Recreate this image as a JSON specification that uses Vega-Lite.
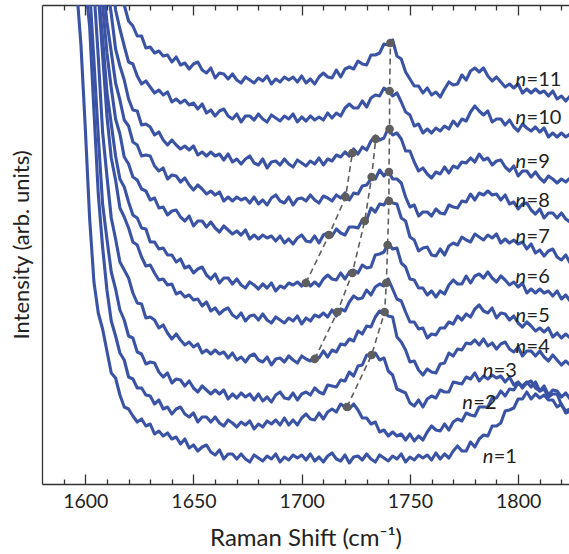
{
"$schema": "https://vega.github.io/schema/vega-lite/v6.json",
"width": 527, "height": 479,
"autosize": "none",
"padding": {"left": 42, "top": 5, "right": 0, "bottom": 70},
"background": "white",
"config": {
  "view": {"stroke": null},
  "font": "Lato",
  "axis": {"grid": false, "domainColor": "#333", "tickColor": "#333", "domainWidth": 1.3, "tickWidth": 1.3, "labelFont": "Lato", "titleFont": "Lato", "labelColor": "#222", "titleColor": "#222", "titleFontWeight": "normal"}
},
"datasets": {
"spec": [
{"x":1594,"n1":560,"n2":560,"n3":560,"n4":560,"n5":560,"n6":560,"n7":560,"n8":560,"n9":560,"n10":560,"n11":560},
{"x":1596,"n1":496,"n2":560,"n3":560,"n4":560,"n5":560,"n6":560,"n7":560,"n8":560,"n9":560,"n10":560,"n11":560},
{"x":1598,"n1":439,"n2":556,"n3":560,"n4":560,"n5":560,"n6":560,"n7":560,"n8":560,"n9":560,"n10":560,"n11":560},
{"x":1600,"n1":356,"n2":500,"n3":541,"n4":560,"n5":560,"n6":560,"n7":560,"n8":560,"n9":560,"n10":560,"n11":560},
{"x":1602,"n1":266,"n2":458,"n3":496,"n4":543,"n5":560,"n6":560,"n7":560,"n8":560,"n9":560,"n10":560,"n11":560},
{"x":1604,"n1":202,"n2":373,"n3":423,"n4":494,"n5":541,"n6":560,"n7":560,"n8":560,"n9":560,"n10":560,"n11":560},
{"x":1606,"n1":171,"n2":290,"n3":348,"n4":427,"n5":491,"n6":495,"n7":533,"n8":536,"n9":560,"n10":560,"n11":560},
{"x":1608,"n1":155,"n2":237,"n3":280,"n4":352,"n5":429,"n6":446,"n7":479,"n8":505,"n9":544,"n10":560,"n11":560},
{"x":1610,"n1":133,"n2":194,"n3":245,"n4":308,"n5":368,"n6":392,"n7":431,"n8":462,"n9":501,"n10":542,"n11":560},
{"x":1612,"n1":111,"n2":163,"n3":212,"n4":266,"n5":326,"n6":360,"n7":396,"n8":432,"n9":470,"n10":517,"n11":560},
{"x":1614,"n1":106,"n2":148,"n3":195,"n4":245,"n5":304,"n6":328,"n7":365,"n8":401,"n9":435,"n10":474,"n11":536},
{"x":1616,"n1":89,"n2":131,"n3":174,"n4":222,"n5":276,"n6":305,"n7":350,"n8":384,"n9":418,"n10":455,"n11":512},
{"x":1618,"n1":77,"n2":124,"n3":164,"n4":214,"n5":267,"n6":297,"n7":327,"n8":364,"n9":404,"n10":438,"n11":479},
{"x":1620,"n1":75,"n2":107,"n3":148,"n4":206,"n5":256,"n6":282,"n7":320,"n8":358,"n9":385,"n10":422,"n11":463},
{"x":1622,"n1":68,"n2":105,"n3":146,"n4":191,"n5":242,"n6":269,"n7":307,"n8":342,"n9":374,"n10":420,"n11":458},
{"x":1624,"n1":62,"n2":96,"n3":132,"n4":181,"n5":239,"n6":266,"n7":304,"n8":339,"n9":373,"n10":408,"n11":448},
{"x":1626,"n1":65,"n2":96,"n3":130,"n4":180,"n5":227,"n6":256,"n7":295,"n8":328,"n9":359,"n10":400,"n11":448},
{"x":1628,"n1":58,"n2":89,"n3":120,"n4":166,"n5":218,"n6":255,"n7":293,"n8":329,"n9":360,"n10":403,"n11":436},
{"x":1630,"n1":60,"n2":88,"n3":122,"n4":167,"n5":219,"n6":242,"n7":284,"n8":328,"n9":357,"n10":397,"n11":437},
{"x":1632,"n1":50,"n2":80,"n3":121,"n4":164,"n5":211,"n6":242,"n7":286,"n8":318,"n9":349,"n10":391,"n11":431},
{"x":1634,"n1":53,"n2":84,"n3":112,"n4":156,"n5":204,"n6":235,"n7":276,"n8":313,"n9":352,"n10":394,"n11":433},
{"x":1636,"n1":48,"n2":75,"n3":107,"n4":159,"n5":205,"n6":236,"n7":277,"n8":316,"n9":344,"n10":389,"n11":428},
{"x":1638,"n1":51,"n2":77,"n3":111,"n4":151,"n5":199,"n6":229,"n7":269,"n8":305,"n9":339,"n10":392,"n11":429},
{"x":1640,"n1":45,"n2":70,"n3":101,"n4":145,"n5":200,"n6":229,"n7":273,"n8":309,"n9":344,"n10":382,"n11":422},
{"x":1642,"n1":47,"n2":75,"n3":105,"n4":150,"n5":190,"n6":222,"n7":274,"n8":308,"n9":339,"n10":385,"n11":427},
{"x":1644,"n1":40,"n2":77,"n3":104,"n4":144,"n5":192,"n6":225,"n7":267,"n8":302,"n9":335,"n10":381,"n11":419},
{"x":1646,"n1":45,"n2":70,"n3":98,"n4":139,"n5":187,"n6":216,"n7":263,"n8":306,"n9":338,"n10":384,"n11":421},
{"x":1648,"n1":36,"n2":67,"n3":103,"n4":142,"n5":189,"n6":218,"n7":268,"n8":299,"n9":334,"n10":379,"n11":415},
{"x":1650,"n1":39,"n2":71,"n3":96,"n4":137,"n5":184,"n6":211,"n7":258,"n8":294,"n9":338,"n10":381,"n11":420},
{"x":1652,"n1":33,"n2":62,"n3":92,"n4":140,"n5":185,"n6":215,"n7":263,"n8":299,"n9":329,"n10":375,"n11":422},
{"x":1654,"n1":37,"n2":67,"n3":98,"n4":131,"n5":178,"n6":217,"n7":263,"n8":295,"n9":332,"n10":380,"n11":414},
{"x":1656,"n1":39,"n2":67,"n3":94,"n4":134,"n5":182,"n6":209,"n7":257,"n8":290,"n9":328,"n10":371,"n11":411},
{"x":1658,"n1":32,"n2":62,"n3":90,"n4":130,"n5":173,"n6":205,"n7":262,"n8":293,"n9":332,"n10":374,"n11":416},
{"x":1660,"n1":29,"n2":67,"n3":94,"n4":134,"n5":176,"n6":210,"n7":256,"n8":289,"n9":328,"n10":368,"n11":406},
{"x":1662,"n1":34,"n2":61,"n3":90,"n4":130,"n5":170,"n6":201,"n7":252,"n8":292,"n9":330,"n10":373,"n11":411},
{"x":1664,"n1":25,"n2":58,"n3":94,"n4":132,"n5":174,"n6":206,"n7":258,"n8":283,"n9":324,"n10":375,"n11":410},
{"x":1666,"n1":30,"n2":64,"n3":85,"n4":126,"n5":176,"n6":206,"n7":254,"n8":287,"n9":330,"n10":368,"n11":405},
{"x":1668,"n1":30,"n2":61,"n3":90,"n4":131,"n5":169,"n6":200,"n7":250,"n8":283,"n9":322,"n10":365,"n11":410},
{"x":1670,"n1":25,"n2":57,"n3":86,"n4":124,"n5":166,"n6":205,"n7":253,"n8":287,"n9":325,"n10":370,"n11":404},
{"x":1672,"n1":30,"n2":62,"n3":91,"n4":127,"n5":171,"n6":199,"n7":249,"n8":284,"n9":320,"n10":362,"n11":401},
{"x":1674,"n1":25,"n2":59,"n3":87,"n4":122,"n5":163,"n6":196,"n7":254,"n8":286,"n9":325,"n10":368,"n11":407},
{"x":1676,"n1":22,"n2":63,"n3":90,"n4":128,"n5":168,"n6":202,"n7":245,"n8":281,"n9":328,"n10":368,"n11":404},
{"x":1678,"n1":29,"n2":55,"n3":84,"n4":130,"n5":169,"n6":199,"n7":249,"n8":287,"n9":321,"n10":364,"n11":401},
{"x":1680,"n1":26,"n2":60,"n3":90,"n4":124,"n5":164,"n6":195,"n7":245,"n8":280,"n9":319,"n10":370,"n11":406},
{"x":1682,"n1":23,"n2":57,"n3":83,"n4":122,"n5":170,"n6":200,"n7":249,"n8":284,"n9":325,"n10":365,"n11":403},
{"x":1684,"n1":28,"n2":63,"n3":87,"n4":127,"n5":164,"n6":196,"n7":246,"n8":279,"n9":316,"n10":362,"n11":408},
{"x":1686,"n1":25,"n2":60,"n3":82,"n4":119,"n5":161,"n6":201,"n7":248,"n8":286,"n9":322,"n10":369,"n11":400},
{"x":1688,"n1":30,"n2":64,"n3":89,"n4":125,"n5":167,"n6":193,"n7":243,"n8":289,"n9":323,"n10":366,"n11":405},
{"x":1690,"n1":22,"n2":59,"n3":92,"n4":126,"n5":164,"n6":198,"n7":248,"n8":283,"n9":319,"n10":363,"n11":402},
{"x":1692,"n1":27,"n2":66,"n3":86,"n4":122,"n5":161,"n6":196,"n7":241,"n8":281,"n9":325,"n10":368,"n11":407},
{"x":1694,"n1":24,"n2":59,"n3":85,"n4":128,"n5":166,"n6":201,"n7":245,"n8":287,"n9":320,"n10":365,"n11":404},
{"x":1696,"n1":29,"n2":64,"n3":91,"n4":124,"n5":163,"n6":199,"n7":240,"n8":279,"n9":317,"n10":370,"n11":407},
{"x":1698,"n1":26,"n2":59,"n3":84,"n4":121,"n5":168,"n6":202,"n7":246,"n8":285,"n9":324,"n10":362,"n11":402},
{"x":1700,"n1":29,"n2":66,"n3":90,"n4":128,"n5":160,"n6":198,"n7":249,"n8":286,"n9":321,"n10":367,"n11":408},
{"x":1702,"n1":24,"n2":70,"n3":92,"n4":125,"n5":166,"n6":204,"n7":243,"n8":283,"n9":318,"n10":363,"n11":401},
{"x":1704,"n1":30,"n2":65,"n3":89,"n4":123,"n5":163,"n6":198,"n7":242,"n8":289,"n9":323,"n10":368,"n11":405},
{"x":1706,"n1":23,"n2":64,"n3":96,"n4":128,"n5":169,"n6":202,"n7":248,"n8":284,"n9":320,"n10":364,"n11":400},
{"x":1708,"n1":27,"n2":71,"n3":92,"n4":126,"n5":167,"n6":198,"n7":241,"n8":281,"n9":326,"n10":367,"n11":407},
{"x":1710,"n1":22,"n2":65,"n3":90,"n4":133,"n5":171,"n6":205,"n7":249,"n8":288,"n9":319,"n10":364,"n11":411},
{"x":1712,"n1":28,"n2":72,"n3":99,"n4":127,"n5":167,"n6":209,"n7":251,"n8":286,"n9":325,"n10":371,"n11":407},
{"x":1714,"n1":31,"n2":75,"n3":98,"n4":134,"n5":174,"n6":205,"n7":248,"n8":283,"n9":323,"n10":366,"n11":406},
{"x":1716,"n1":25,"n2":72,"n3":97,"n4":132,"n5":168,"n6":204,"n7":255,"n8":289,"n9":329,"n10":371,"n11":414},
{"x":1718,"n1":23,"n2":80,"n3":104,"n4":140,"n5":175,"n6":211,"n7":251,"n8":286,"n9":327,"n10":368,"n11":407},
{"x":1720,"n1":29,"n2":77,"n3":103,"n4":139,"n5":173,"n6":205,"n7":249,"n8":291,"n9":332,"n10":376,"n11":415},
{"x":1722,"n1":21,"n2":75,"n3":112,"n4":145,"n5":182,"n6":212,"n7":257,"n8":284,"n9":328,"n10":380,"n11":417},
{"x":1724,"n1":27,"n2":80,"n3":108,"n4":143,"n5":188,"n6":214,"n7":257,"n8":291,"n9":335,"n10":376,"n11":415},
{"x":1726,"n1":28,"n2":74,"n3":118,"n4":153,"n5":185,"n6":211,"n7":256,"n8":290,"n9":330,"n10":376,"n11":423},
{"x":1728,"n1":24,"n2":66,"n3":119,"n4":150,"n5":186,"n6":219,"n7":264,"n8":298,"n9":337,"n10":383,"n11":420},
{"x":1730,"n1":30,"n2":66,"n3":129,"n4":158,"n5":194,"n6":216,"n7":264,"n8":299,"n9":334,"n10":377,"n11":419},
{"x":1732,"n1":25,"n2":60,"n3":129,"n4":157,"n5":189,"n6":217,"n7":276,"n8":305,"n9":343,"n10":386,"n11":429},
{"x":1734,"n1":22,"n2":62,"n3":131,"n4":167,"n5":197,"n6":229,"n7":272,"n8":305,"n9":348,"n10":389,"n11":429},
{"x":1736,"n1":29,"n2":52,"n3":124,"n4":173,"n5":200,"n6":230,"n7":280,"n8":314,"n9":344,"n10":388,"n11":431},
{"x":1738,"n1":26,"n2":54,"n3":126,"n4":171,"n5":198,"n6":232,"n7":279,"n8":308,"n9":346,"n10":396,"n11":440},
{"x":1740,"n1":23,"n2":48,"n3":113,"n4":168,"n5":205,"n6":241,"n7":286,"n8":313,"n9":356,"n10":393,"n11":439},
{"x":1742,"n1":28,"n2":52,"n3":109,"n4":167,"n5":195,"n6":235,"n7":281,"n8":305,"n9":349,"n10":388,"n11":444},
{"x":1744,"n1":25,"n2":48,"n3":95,"n4":147,"n5":185,"n6":236,"n7":280,"n8":305,"n9":351,"n10":391,"n11":428},
{"x":1746,"n1":30,"n2":50,"n3":93,"n4":142,"n5":183,"n6":221,"n7":266,"n8":301,"n9":345,"n10":382,"n11":425},
{"x":1748,"n1":22,"n2":44,"n3":91,"n4":134,"n5":172,"n6":217,"n7":263,"n8":287,"n9":333,"n10":372,"n11":412},
{"x":1750,"n1":27,"n2":50,"n3":81,"n4":122,"n5":162,"n6":205,"n7":247,"n8":277,"n9":333,"n10":369,"n11":405},
{"x":1752,"n1":24,"n2":43,"n3":78,"n4":123,"n5":162,"n6":204,"n7":244,"n8":279,"n9":322,"n10":358,"n11":398},
{"x":1754,"n1":29,"n2":48,"n3":84,"n4":114,"n5":155,"n6":196,"n7":233,"n8":268,"n9":313,"n10":360,"n11":398},
{"x":1756,"n1":26,"n2":44,"n3":77,"n4":109,"n5":156,"n6":196,"n7":236,"n8":272,"n9":316,"n10":351,"n11":391},
{"x":1758,"n1":29,"n2":52,"n3":85,"n4":115,"n5":146,"n6":189,"n7":237,"n8":272,"n9":310,"n10":355,"n11":396},
{"x":1760,"n1":24,"n2":58,"n3":88,"n4":112,"n5":150,"n6":193,"n7":229,"n8":268,"n9":306,"n10":351,"n11":389},
{"x":1762,"n1":31,"n2":54,"n3":86,"n4":111,"n5":149,"n6":187,"n7":228,"n8":275,"n9":312,"n10":356,"n11":392},
{"x":1764,"n1":25,"n2":53,"n3":94,"n4":120,"n5":156,"n6":193,"n7":235,"n8":271,"n9":310,"n10":353,"n11":387},
{"x":1766,"n1":30,"n2":60,"n3":92,"n4":121,"n5":156,"n6":190,"n7":229,"n8":270,"n9":317,"n10":358,"n11":395},
{"x":1768,"n1":26,"n2":54,"n3":92,"n4":131,"n5":162,"n6":199,"n7":238,"n8":279,"n9":311,"n10":355,"n11":402},
{"x":1770,"n1":33,"n2":62,"n3":102,"n4":128,"n5":160,"n6":204,"n7":241,"n8":277,"n9":318,"n10":363,"n11":399},
{"x":1772,"n1":38,"n2":65,"n3":101,"n4":135,"n5":168,"n6":200,"n7":239,"n8":276,"n9":316,"n10":358,"n11":400},
{"x":1774,"n1":33,"n2":63,"n3":100,"n4":134,"n5":164,"n6":200,"n7":247,"n8":283,"n9":322,"n10":365,"n11":409},
{"x":1776,"n1":33,"n2":71,"n3":107,"n4":141,"n5":170,"n6":208,"n7":244,"n8":282,"n9":321,"n10":363,"n11":404},
{"x":1778,"n1":42,"n2":69,"n3":105,"n4":140,"n5":167,"n6":201,"n7":242,"n8":290,"n9":326,"n10":372,"n11":413},
{"x":1780,"n1":37,"n2":68,"n3":111,"n4":144,"n5":175,"n6":208,"n7":250,"n8":284,"n9":322,"n10":378,"n11":416},
{"x":1782,"n1":45,"n2":77,"n3":103,"n4":139,"n5":179,"n6":210,"n7":247,"n8":291,"n9":330,"n10":373,"n11":412},
{"x":1784,"n1":49,"n2":77,"n3":108,"n4":145,"n5":173,"n6":206,"n7":244,"n8":289,"n9":324,"n10":369,"n11":416},
{"x":1786,"n1":48,"n2":77,"n3":105,"n4":138,"n5":171,"n6":212,"n7":249,"n8":293,"n9":326,"n10":373,"n11":408},
{"x":1788,"n1":58,"n2":86,"n3":109,"n4":141,"n5":176,"n6":206,"n7":246,"n8":289,"n9":319,"n10":362,"n11":403},
{"x":1790,"n1":58,"n2":86,"n3":106,"n4":135,"n5":166,"n6":202,"n7":250,"n8":290,"n9":323,"n10":365,"n11":407},
{"x":1792,"n1":61,"n2":93,"n3":108,"n4":140,"n5":171,"n6":208,"n7":241,"n8":284,"n9":324,"n10":365,"n11":402},
{"x":1794,"n1":73,"n2":88,"n3":102,"n4":142,"n5":170,"n6":204,"n7":245,"n8":289,"n9":317,"n10":359,"n11":397},
{"x":1796,"n1":74,"n2":95,"n3":107,"n4":135,"n5":164,"n6":199,"n7":241,"n8":280,"n9":313,"n10":364,"n11":400},
{"x":1798,"n1":76,"n2":94,"n3":99,"n4":132,"n5":168,"n6":202,"n7":244,"n8":282,"n9":318,"n10":357,"n11":396},
{"x":1800,"n1":85,"n2":101,"n3":102,"n4":137,"n5":161,"n6":197,"n7":240,"n8":275,"n9":308,"n10":353,"n11":400},
{"x":1802,"n1":85,"n2":98,"n3":96,"n4":128,"n5":157,"n6":201,"n7":242,"n8":280,"n9":313,"n10":360,"n11":391},
{"x":1804,"n1":92,"n2":102,"n3":101,"n4":133,"n5":162,"n6":191,"n7":235,"n8":281,"n9":313,"n10":356,"n11":395},
{"x":1806,"n1":85,"n2":97,"n3":103,"n4":133,"n5":158,"n6":195,"n7":240,"n8":274,"n9":307,"n10":353,"n11":391},
{"x":1808,"n1":90,"n2":102,"n3":96,"n4":128,"n5":153,"n6":191,"n7":231,"n8":270,"n9":312,"n10":357,"n11":395},
{"x":1810,"n1":86,"n2":93,"n3":93,"n4":133,"n5":156,"n6":195,"n7":234,"n8":275,"n9":306,"n10":352,"n11":391},
{"x":1812,"n1":89,"n2":95,"n3":98,"n4":127,"n5":152,"n6":191,"n7":228,"n8":266,"n9":302,"n10":356,"n11":393},
{"x":1814,"n1":84,"n2":87,"n3":89,"n4":123,"n5":156,"n6":193,"n7":233,"n8":271,"n9":308,"n10":347,"n11":388},
{"x":1816,"n1":84,"n2":90,"n3":94,"n4":129,"n5":147,"n6":188,"n7":235,"n8":271,"n9":305,"n10":351,"n11":393},
{"x":1818,"n1":77,"n2":90,"n3":93,"n4":124,"n5":151,"n6":193,"n7":227,"n8":266,"n9":301,"n10":347,"n11":385},
{"x":1820,"n1":80,"n2":79,"n3":87,"n4":119,"n5":146,"n6":185,"n7":224,"n8":271,"n9":305,"n10":351,"n11":388},
{"x":1822,"n1":71,"n2":73,"n3":91,"n4":123,"n5":150,"n6":189,"n7":229,"n8":265,"n9":302,"n10":347,"n11":383},
{"x":1824,"n1":73,"n2":75,"n3":85,"n4":119,"n5":146,"n6":183,"n7":221,"n8":262,"n9":306,"n10":350,"n11":388}
],
"dash": [
{"g":"A","x":1741.0,"I":441},{"g":"A","x":1740.6,"I":393},{"g":"A","x":1740.6,"I":355},{"g":"A","x":1740.3,"I":312},{"g":"A","x":1740.3,"I":283},{"g":"A","x":1739.7,"I":239},{"g":"A","x":1739.1,"I":201},{"g":"A","x":1738.3,"I":172},{"g":"A","x":1732.3,"I":129},{"g":"A","x":1720.9,"I":77},
{"g":"B","x":1734.2,"I":345},{"g":"B","x":1732.3,"I":307},{"g":"B","x":1729.1,"I":263},{"g":"B","x":1723.4,"I":211},{"g":"B","x":1716.5,"I":172},{"g":"B","x":1706.0,"I":125},
{"g":"C","x":1723.4,"I":331},{"g":"C","x":1720.3,"I":287},{"g":"C","x":1712.6,"I":249},{"g":"C","x":1701.9,"I":201}
],
"labels": [
{"x":1798.8,"I":404,"t":"=11"},{"x":1798.8,"I":366,"t":"=10"},{"x":1798.8,"I":322,"t":"=9"},{"x":1798.8,"I":283,"t":"=8"},{"x":1798.8,"I":247,"t":"=7"},{"x":1798.8,"I":207,"t":"=6"},{"x":1798.8,"I":168,"t":"=5"},{"x":1798.8,"I":137,"t":"=4"},{"x":1783.6,"I":113,"t":"=3"},{"x":1774.2,"I":81,"t":"=2"},{"x":1783.6,"I":27,"t":"=1"}
]
},
"resolve": {"axis": {"x": "independent"}},
"layer": [
{
 "data": {"name": "spec"},
 "transform": [{"fold": ["n1","n2","n3","n4","n5","n6","n7","n8","n9","n10","n11"], "as": ["curve","I"]}],
 "mark": {"type": "line", "color": "#3a53a4", "strokeWidth": 3.1, "clip": true, "strokeJoin": "round"},
 "encoding": {
  "x": {"field": "x", "type": "quantitative", "scale": {"domain": [1580, 1823.5], "nice": false, "zero": false},
        "axis": {"orient": "bottom", "values": [1600,1650,1700,1750,1800], "format": "d", "tickSize": -10, "labelPadding": 18, "labelFontSize": 19.5, "labelFlush": false, "title": "Raman Shift (cm⁻¹)", "titleFontSize": 24, "titlePadding": 16}},
  "y": {"field": "I", "type": "quantitative", "scale": {"domain": [0, 479], "nice": false, "zero": false},
        "axis": {"orient": "left", "ticks": false, "labels": false, "domain": true, "title": "Intensity (arb. units)", "titleFontSize": 22, "titlePadding": 9}},
  "detail": {"field": "curve"}
 }
},
{
 "data": {"name": "dash"},
 "mark": {"type": "line", "color": "#5e5e5e", "strokeWidth": 1.6, "strokeDash": [6, 4], "clip": true},
 "encoding": {
  "x": {"field": "x", "type": "quantitative", "scale": {"domain": [1580, 1823.5], "nice": false, "zero": false},
        "axis": {"orient": "bottom", "values": [1590,1610,1620,1630,1640,1660,1670,1680,1690,1710,1720,1730,1740,1760,1770,1780,1790,1810,1820], "tickSize": -5, "labels": false, "domain": false, "title": null}},
  "y": {"field": "I", "type": "quantitative", "scale": {"domain": [0, 479], "nice": false, "zero": false},
        "axis": {"orient": "left", "ticks": false, "labels": false, "domain": true, "title": "Intensity (arb. units)", "titleFontSize": 22, "titlePadding": 9}},
  "detail": {"field": "g"},
  "order": {"field": "I"}
 }
},
{
 "data": {"name": "dash"},
 "mark": {"type": "circle", "color": "#5e5e5e", "size": 75, "opacity": 1},
 "encoding": {
  "x": {"field": "x", "type": "quantitative", "scale": {"domain": [1580, 1823.5], "nice": false, "zero": false},
        "axis": {"orient": "top", "values": [1600,1650,1700,1750,1800], "tickSize": -10, "labels": false, "title": null}},
  "y": {"field": "I", "type": "quantitative", "scale": {"domain": [0, 479], "nice": false, "zero": false},
        "axis": {"orient": "left", "ticks": false, "labels": false, "domain": true, "title": "Intensity (arb. units)", "titleFontSize": 22, "titlePadding": 9}}
 }
},
{
 "data": {"name": "labels"},
 "mark": {"type": "text", "text": "n", "fontStyle": "italic", "font": "Lato", "fontSize": 20, "align": "left", "baseline": "middle", "color": "#222"},
 "encoding": {
  "x": {"field": "x", "type": "quantitative", "scale": {"domain": [1580, 1823.5], "nice": false, "zero": false},
        "axis": {"orient": "top", "values": [1590,1610,1620,1630,1640,1660,1670,1680,1690,1710,1720,1730,1740,1760,1770,1780,1790,1810,1820], "tickSize": -5, "labels": false, "domain": false, "title": null}},
  "y": {"field": "I", "type": "quantitative", "scale": {"domain": [0, 479], "nice": false, "zero": false},
        "axis": {"orient": "left", "ticks": false, "labels": false, "domain": true, "title": "Intensity (arb. units)", "titleFontSize": 22, "titlePadding": 9}}
 }
},
{
 "data": {"name": "labels"},
 "mark": {"type": "text", "font": "Lato", "fontSize": 20, "align": "left", "baseline": "middle", "color": "#222", "dx": 11},
 "encoding": {
  "x": {"field": "x", "type": "quantitative", "scale": {"domain": [1580, 1823.5], "nice": false, "zero": false}, "axis": null},
  "y": {"field": "I", "type": "quantitative", "scale": {"domain": [0, 479], "nice": false, "zero": false},
        "axis": {"orient": "left", "ticks": false, "labels": false, "domain": true, "title": "Intensity (arb. units)", "titleFontSize": 22, "titlePadding": 9}},
  "text": {"field": "t"}
 }
}
]
}
